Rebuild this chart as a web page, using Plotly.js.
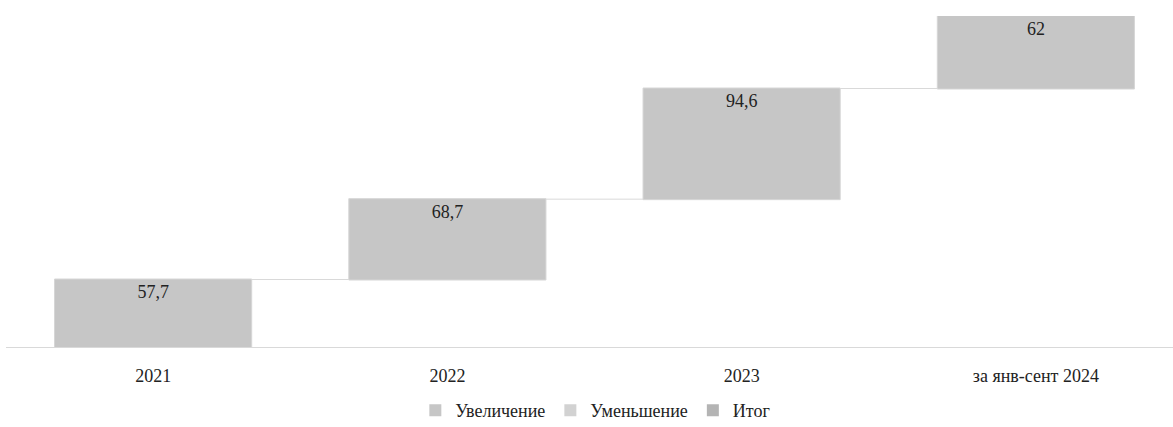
<!DOCTYPE html>
<html><head><meta charset="utf-8">
<script src="https://cdn.plot.ly/plotly-3.0.1.min.js"></script>
<style>body{margin:0;background:#fff}#c{width:1173px;height:427px}</style>
</head><body><div id="c"></div>
<script>
const categories = ["2021", "2022", "2023", "за янв-сент 2024"];
const values = [57.7, 68.7, 94.6, 62];
const legendNames = ["Увеличение", "Уменьшение", "Итог"];
const legendColors = ["#c6c6c6", "#d2d2d2", "#b4b4b4"];

const FAM = "Liberation Serif";
const SZ = 18;
const font = {family: FAM, size: SZ, color: "#222"};
const labels = values.map(v => String(v).replace('.', ','));

const traces = [{
  type: "waterfall",
  x: categories,
  y: values,
  measure: values.map(() => "relative"),
  text: labels,
  textposition: "inside",
  insidetextanchor: "end",
  textfont: {family: FAM, size: SZ, color: "#222"},
  constraintext: "none",
  hoverinfo: "skip",
  width: 0.67,
  increasing: {marker: {color: "#c6c6c6", line: {color: "#d6d6d6", width: 1}}},
  decreasing: {marker: {color: "#d2d2d2"}},
  totals: {marker: {color: "#b4b4b4"}},
  connector: {line: {color: "#d9d9d9", width: 1}},
  showlegend: false
}];
legendNames.forEach((n, i) => traces.push({
  type: "bar", x: [null], y: [null], name: n, xaxis: "x2", yaxis: "y2",
  marker: {color: legendColors[i]}, showlegend: true
}));

const layout = {
  width: 1173, height: 427,
  margin: {l: 6, r: 0, t: 16, b: 80, autoexpand: false},
  paper_bgcolor: "#fff", plot_bgcolor: "#fff",
  font: font,
  showlegend: true,
  legend: {orientation: "h", x: 0.505, xanchor: "center", y: -0.136, yanchor: "top",
    font: {family: FAM, size: SZ, color: "#222"}, itemwidth: 30, traceorder: "normal"},
  xaxis: {type: "category", range: [-0.5, 3.466], showgrid: false, zeroline: false,
    automargin: false,
    showline: true, linecolor: "#d9d9d9", linewidth: 1, ticks: "", ticklen: 0,
    ticklabelstandoff: 12,
    tickfont: {family: FAM, size: SZ, color: "#222"}, fixedrange: true},
  yaxis: {range: [0, 283], showgrid: false, zeroline: false, showticklabels: false, showline: false, automargin: false},
  xaxis2: {overlaying: "x", visible: false},
  yaxis2: {overlaying: "y", visible: false}
};
Plotly.newPlot("c", traces, layout, {displayModeBar: false, staticPlot: true});
</script></body></html>
